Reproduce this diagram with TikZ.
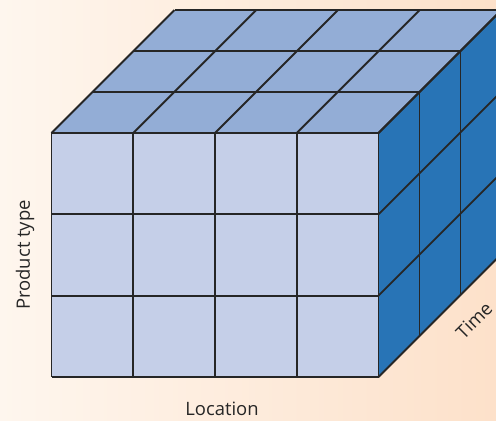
\documentclass[tikz,border=0pt]{standalone}
\usepackage{fontspec}
\setmainfont{Open Sans}
\definecolor{bgL}{RGB}{254,246,238}
\definecolor{bgR}{RGB}{253,225,202}
\definecolor{frontc}{RGB}{197,207,232}
\definecolor{topc}{RGB}{147,173,214}
\definecolor{sidec}{RGB}{40,116,182}
\definecolor{edgec}{RGB}{38,38,38}
\tikzset{
  grid line/.style={draw=edgec, line width=1.8bp, line join=miter},
  axislabel/.style={inner sep=0pt, font=\fontsize{18.5}{22}\selectfont, text=black!85}
}
\begin{document}
\begin{tikzpicture}[x=1bp,y=-1bp]
\useasboundingbox (0,0) rectangle (496,420);
\clip (0,0) rectangle (496,420);
\shade[left color=bgL, right color=bgR] (0,0) rectangle (496,420);
% dimensions
\def\xa{51.5}\def\ya{133}\def\cw{81.75}\def\ch{81.33}\def\dd{41}
% faces
\fill[frontc] (51.5,133) rectangle (378.5,377);
\fill[topc] (51.5,133) -- (378.5,133) -- (501.5,10) -- (174.5,10) -- cycle;
\fill[sidec] (378.5,133) -- (501.5,10) -- (501.5,254) -- (378.5,377) -- cycle;
% front grid
\foreach \i in {0,...,4}{
  \draw[grid line] ({\xa+\i*\cw},133) -- ({\xa+\i*\cw},377);
}
\foreach \j in {0,...,3}{
  \draw[grid line] (51.5,{\ya+\j*\ch}) -- (378.5,{\ya+\j*\ch});
}
% top grid
\foreach \k in {1,...,3}{
  \draw[grid line] ({\xa+\k*\dd},{\ya-\k*\dd}) -- ({378.5+\k*\dd},{\ya-\k*\dd});
}
\foreach \i in {0,...,4}{
  \draw[grid line] ({\xa+\i*\cw},133) -- ({\xa+\i*\cw+3*\dd},10);
}
% side grid
\foreach \k in {1,...,3}{
  \draw[grid line] ({378.5+\k*\dd},{133-\k*\dd}) -- ({378.5+\k*\dd},{377-\k*\dd});
}
\foreach \j in {0,...,3}{
  \draw[grid line] (378.5,{\ya+\j*\ch}) -- (501.5,{\ya+\j*\ch-3*\dd});
}
% labels
\node[axislabel, rotate=90] (prod) at (25,255) {Product type};
\node[axislabel] (loc) at (222,409) {Location};
\node[axislabel, rotate=45] (time) at (474,320.5) {Time};
\end{tikzpicture}
\end{document}
